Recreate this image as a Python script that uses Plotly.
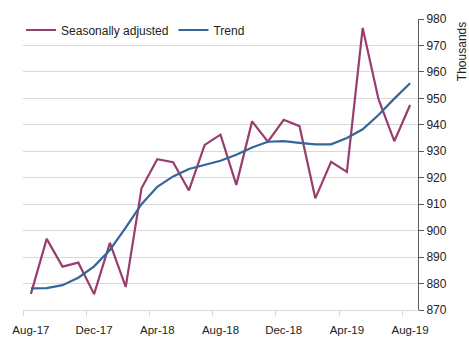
import plotly.graph_objects as go

months = ["Aug-17","Sep-17","Oct-17","Nov-17","Dec-17","Jan-18","Feb-18","Mar-18",
          "Apr-18","May-18","Jun-18","Jul-18","Aug-18","Sep-18","Oct-18","Nov-18",
          "Dec-18","Jan-19","Feb-19","Mar-19","Apr-19","May-19","Jun-19","Jul-19","Aug-19"]
seasonally_adjusted = [876.1, 896.9, 886.4, 887.9, 876.0, 895.4, 878.7, 916.0,
                       927.0, 925.9, 915.2, 932.4, 936.3, 917.3, 941.3, 933.6,
                       941.9, 939.5, 912.2, 926.0, 922.2, 976.6, 949.7, 933.8, 947.5]
trend = [878.2, 878.3, 879.4, 882.2, 886.5, 892.7, 901.1, 910.0,
         916.6, 920.5, 923.3, 924.9, 926.4, 928.7, 931.4, 933.6,
         933.8, 933.2, 932.6, 932.6, 935.0, 938.3, 943.7, 949.9, 955.7]

xi = list(range(len(months)))
label_idx = list(range(0, len(months), 4))

fig = go.Figure()
fig.add_trace(go.Scatter(x=xi, y=seasonally_adjusted, mode="lines", name="Seasonally adjusted",
                         line=dict(color="#993d6c", width=2.2)))
fig.add_trace(go.Scatter(x=xi, y=trend, mode="lines", name="Trend",
                         line=dict(color="#336699", width=2.2)))

fig.update_layout(
    width=469, height=348,
    margin=dict(l=21, r=51, t=12, b=29),
    paper_bgcolor="white", plot_bgcolor="white",
    font=dict(family="Liberation Sans, Arial, sans-serif", size=12, color="#222222"),
    showlegend=True,
    legend=dict(orientation="h", x=-0.005, y=1.012, xanchor="left", yanchor="top",
                bgcolor="rgba(0,0,0,0)", font=dict(size=12), itemwidth=30,
                tracegroupgap=0),
    xaxis=dict(
        range=[-0.5, len(months) - 0.5],
        tickmode="array", tickvals=label_idx, ticktext=[months[i] for i in label_idx],
        ticks="", ticklabelstandoff=9,
        tickfont=dict(size=11.5),
        showgrid=False, zeroline=False,
        showline=True, linecolor="#d9d9d9", linewidth=1,
        minor=dict(tickmode="array", tickvals=[i - 0.5 for i in label_idx],
                   ticks="outside", ticklen=5, tickcolor="#d9d9d9", showgrid=False),
    ),
    yaxis=dict(
        side="right", range=[870, 980], tickmode="linear", tick0=870, dtick=10,
        ticks="outside", ticklen=5, tickcolor="#595959",
        tickfont=dict(size=12),
        showline=True, linecolor="#595959", linewidth=1,
        showgrid=True, gridcolor="#d9d9d9", gridwidth=1, zeroline=False,
    ),
    annotations=[dict(text="Thousands", xref="paper", yref="paper", x=1.111, y=0.889,
                      xanchor="center", yanchor="middle", textangle=-90, showarrow=False,
                      font=dict(size=12, color="#222222"))],
)

fig.write_html("out.html")
